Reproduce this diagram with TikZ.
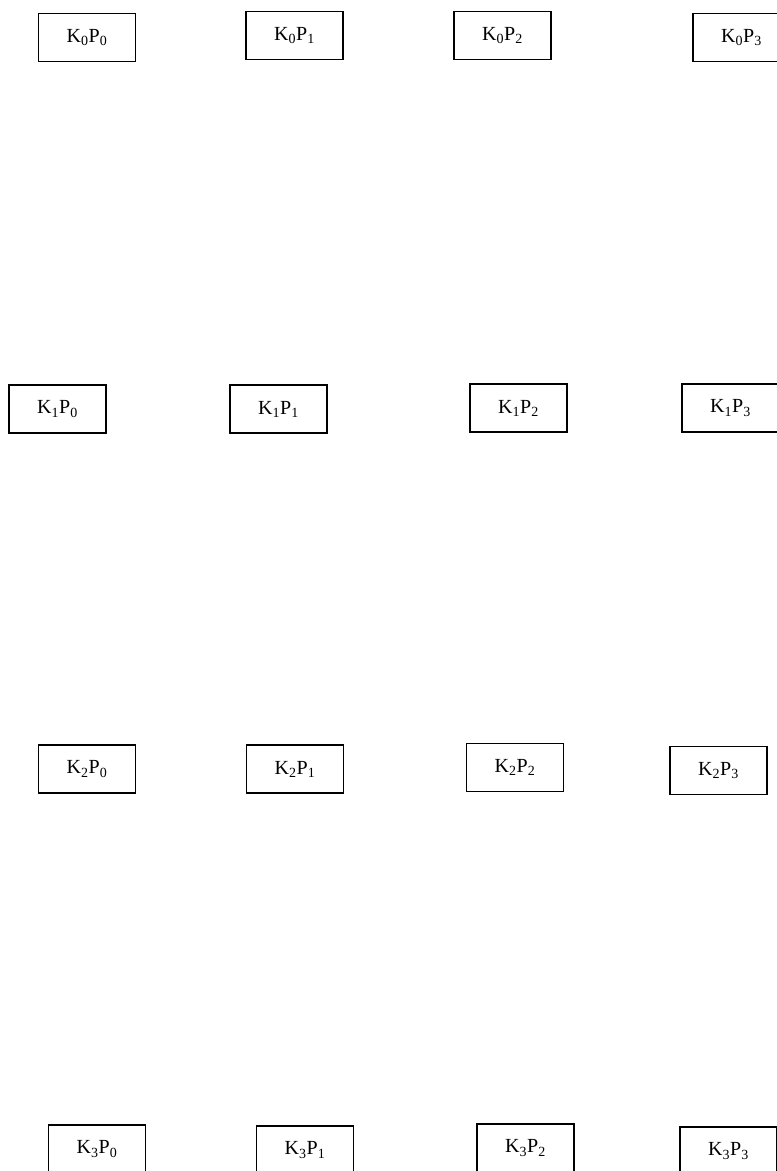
\documentclass[tikz,border=0pt]{standalone}
\usepackage{fontspec}
\setmainfont{Liberation Serif}
\usetikzlibrary{positioning}
\tikzset{
myKey/.style={
	rectangle,draw=black,line width=1.1pt,
	inner sep=0pt,minimum width=97pt,minimum height=48pt,
	font=\fontsize{20}{22}\selectfont
}
}
\newcommand{\kp}[2]{K\textsubscript{#1}P\textsubscript{#2}}

\begin{document}
\begin{tikzpicture}[x=1pt,y=-1pt]
	\useasboundingbox (0,0) rectangle (777,1171);
	% key 0
	\node[myKey] (K0P0) at (87,37.5)    {\kp{0}{0}};
	\node[myKey] (K0P1) at (294.5,35.5) {\kp{0}{1}};
	\node[myKey] (K0P2) at (502.5,35.5) {\kp{0}{2}};
	\node[myKey] (K0P3) at (741.5,37.5) {\kp{0}{3}};
	% key 1
	\node[myKey] (K1P0) at (57.5,409)   {\kp{1}{0}};
	\node[myKey] (K1P1) at (278.5,409)  {\kp{1}{1}};
	\node[myKey] (K1P2) at (518.5,408)  {\kp{1}{2}};
	\node[myKey] (K1P3) at (730.5,408)  {\kp{1}{3}};
	% key 2
	\node[myKey] (K2P0) at (87,769)     {\kp{2}{0}};
	\node[myKey] (K2P1) at (295,769)    {\kp{2}{1}};
	\node[myKey] (K2P2) at (515,767.5)  {\kp{2}{2}};
	\node[myKey] (K2P3) at (718.5,770.5){\kp{2}{3}};
	% key 3
	\node[myKey] (K3P0) at (97,1149)    {\kp{3}{0}};
	\node[myKey] (K3P1) at (305,1150)   {\kp{3}{1}};
	\node[myKey] (K3P2) at (525.5,1148) {\kp{3}{2}};
	\node[myKey] (K3P3) at (728.5,1151) {\kp{3}{3}};
\end{tikzpicture}
\end{document}
